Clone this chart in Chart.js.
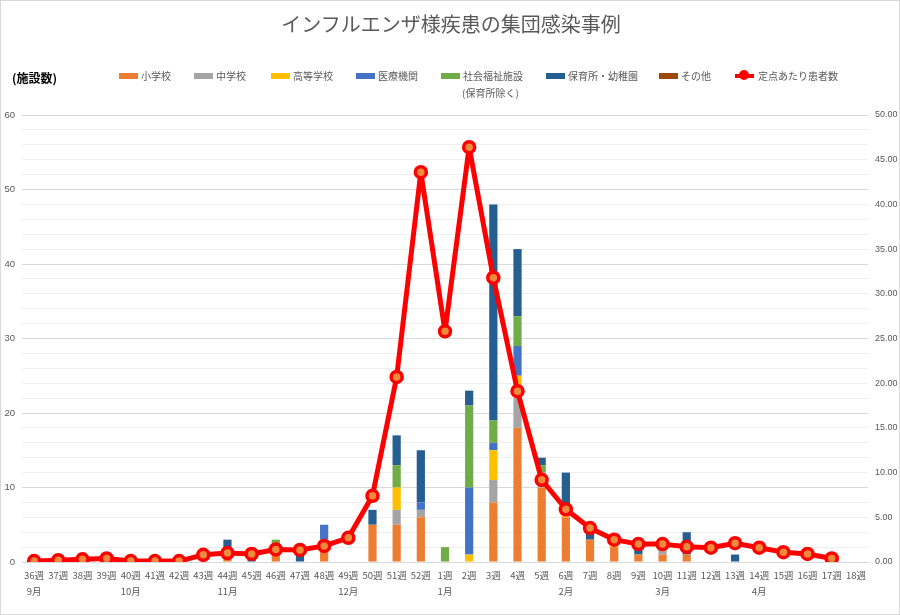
<!DOCTYPE html>
<html lang="ja">
<head>
  <meta charset="UTF-8" />
  <title>インフルエンザ様疾患の集団感染事例</title>
  <script src="https://cdn.jsdelivr.net/npm/chart.js"></script>
  <style>
    * { box-sizing: border-box; }
    body {
      margin: 0;
      background: #fff;
      font-family: 'Noto Sans CJK JP', 'Noto Sans', sans-serif;
    }
    .frame {
      position: relative;
      width: 900px;
      height: 615px;
      border: 1px solid #d9d9d9;
      overflow: hidden;
    }
    canvas { position: absolute; left: 0; top: 0; }
    .title {
      position: absolute; top: 8px; left: 0; width: 900px;
      text-align: center; font-size: 20px; color: #595959;
    }
    .unit {
      position: absolute; left: 11px; top: 68px;
      font-size: 12px; color: #000; font-weight: 600;
    }
    .lg {
      position: absolute; top: 68px; font-size: 10px; color: #595959;
      display: flex; align-items: center; white-space: nowrap; line-height: 14px;
    }
    .lg .sw { width: 19px; height: 6px; margin-right: 3px; }
    .lg .ln { position: relative; width: 19px; height: 4px; background: #ff0000; margin-right: 4px; }
    .lg .ln::after {
      content: ''; position: absolute; left: 5px; top: -3px;
      width: 6px; height: 6px; border-radius: 50%; background: #ff0000; border: 2px solid #ff0000;
      box-sizing: content-box; margin-left: -1px; margin-top: -1px;
    }
    .sub { position: absolute; left: 461px; top: 84px; font-size: 10px; color: #595959; }
  </style>
</head>
<body>
  <div class="frame">
    <canvas id="chart" width="900" height="615"></canvas>
    <div class="title">インフルエンザ様疾患の集団感染事例</div>
    <div class="unit">(施設数)</div>
    <div class="lg" style="left:118px"><span class="sw" style="background:#ED7D31"></span>小学校</div>
    <div class="lg" style="left:193px"><span class="sw" style="background:#A5A5A5"></span>中学校</div>
    <div class="lg" style="left:270px"><span class="sw" style="background:#FFC000"></span>高等学校</div>
    <div class="lg" style="left:355px"><span class="sw" style="background:#4472C4"></span>医療機関</div>
    <div class="lg" style="left:440px"><span class="sw" style="background:#70AD47"></span>社会福祉施設</div>
    <div class="sub">(保育所除く)</div>
    <div class="lg" style="left:545px"><span class="sw" style="background:#255E91"></span>保育所・幼稚園</div>
    <div class="lg" style="left:658px"><span class="sw" style="background:#9E480E"></span>その他</div>
    <div class="lg" style="left:734px"><span class="ln"></span>定点あたり患者数</div>
  </div>
  <script>
    const weeks = ['36週','37週','38週','39週','40週','41週','42週','43週','44週','45週','46週','47週','48週','49週','50週','51週','52週',
                   '1週','2週','3週','4週','5週','6週','7週','8週','9週','10週','11週','12週','13週','14週','15週','16週','17週','18週'];
    const months = ['9月','','','','10月','','','','11月','','','','','12月','','','',
                    '1月','','','','','2月','','','','3月','','','','4月','','','',''];

    const elementary = [0,0,0,0,0,0,0,0,1,0,2,0,3,0,5,5,6,0,0,8,18,10,6,3,2,1,1,1,0,0,0,0,0,0,0];
    const juniorHigh = [0,0,0,0,0,0,0,0,0,0,0,0,0,0,0,2,1,0,0,3,4,2,0,0,0,0,1,0,0,0,0,0,0,0,0];
    const highSchool = [0,0,0,0,0,0,0,0,0,0,0,0,0,0,0,3,0,0,1,4,3,0,1,0,1,0,0,0,0,0,0,0,0,0,0];
    const medical    = [0,0,0,0,0,0,0,0,0,0,0,0,2,0,0,0,1,0,9,1,4,0,0,0,0,0,0,0,0,0,0,0,0,0,0];
    const welfare    = [0,0,0,0,0,0,0,0,0,0,1,0,0,0,0,3,0,2,11,3,4,1,0,0,0,0,0,0,0,0,0,0,0,0,0];
    const nursery    = [0,0,0,0,0,0,0,0,2,1,0,1,0,0,2,4,7,0,2,29,9,1,5,1,0,1,0,3,0,1,0,0,0,0,0];
    const others     = [0,0,0,0,0,0,0,0,0,0,0,0,0,0,0,0,0,0,0,0,0,0,0,0,0,0,0,0,0,0,0,0,0,0,0];
    const perSentinel = [0.1,0.2,0.3,0.4,0.1,0.1,0.1,0.8,1.0,0.9,1.4,1.35,1.8,2.7,7.4,20.7,43.6,
                         25.8,46.4,31.8,19.1,9.2,5.9,3.8,2.5,2.0,2.0,1.7,1.6,2.1,1.6,1.1,0.9,0.4,null];

    const labels = weeks.map((w, i) => [w, months[i]]);

    function bar(label, data, color) {
      return { type: 'bar', label, data, backgroundColor: color, yAxisID: 'y', order: 2,
               barPercentage: 0.34, categoryPercentage: 1 };
    }

    new Chart(document.getElementById('chart'), {
      type: 'bar',
      data: {
        labels: labels,
        datasets: [
          { type: 'line', label: '定点あたり患者数', data: perSentinel, yAxisID: 'y1', order: 0,
            borderColor: '#ff0000', borderWidth: 5, tension: 0, borderJoinStyle: 'round',
            pointRadius: 5.5, pointBorderWidth: 3.5, pointBorderColor: '#ff0000',
            pointBackgroundColor: '#F08A3C' },
          bar('小学校', elementary, '#ED7D31'),
          bar('中学校', juniorHigh, '#A5A5A5'),
          bar('高等学校', highSchool, '#FFC000'),
          bar('医療機関', medical, '#4472C4'),
          bar('社会福祉施設', welfare, '#70AD47'),
          bar('保育所・幼稚園', nursery, '#255E91'),
          bar('その他', others, '#9E480E')
        ]
      },
      options: {
        responsive: false,
        animation: false,
        layout: { padding: { top: 114, left: 0, right: 0, bottom: 0 } },
        plugins: { legend: { display: false }, title: { display: false }, tooltip: { enabled: false } },
        scales: {
          x: {
            stacked: true,
            grid: { display: false },
            border: { color: '#d9d9d9' },
            ticks: { autoSkip: false, maxRotation: 0, padding: -2, color: '#595959',
                     font: { size: 9.5, family: "'Noto Sans CJK JP'", lineHeight: 1.65 } },
            afterFit: s => { s.height = 54; }
          },
          y: {
            stacked: true, min: 0, max: 60, position: 'left',
            grid: { drawTicks: false, color: c => (c.tick && c.tick.value % 10 === 0) ? '#d9d9d9' : '#eeeeee' },
            border: { display: false },
            ticks: { stepSize: 2, autoSkip: false, padding: 7, color: '#595959', font: { size: 9.5 },
                     callback: v => v % 10 === 0 ? v : '' },
            afterFit: s => { s.width = 21; }
          },
          y1: {
            min: 0, max: 50, position: 'right',
            grid: { drawOnChartArea: false, drawTicks: false },
            border: { display: false },
            ticks: { stepSize: 5, autoSkip: false, padding: 7, color: '#595959', font: { size: 9 },
                     callback: v => v.toFixed(2) },
            afterFit: s => { s.width = 33; }
          }
        }
      }
    });
  </script>
</body>
</html>
